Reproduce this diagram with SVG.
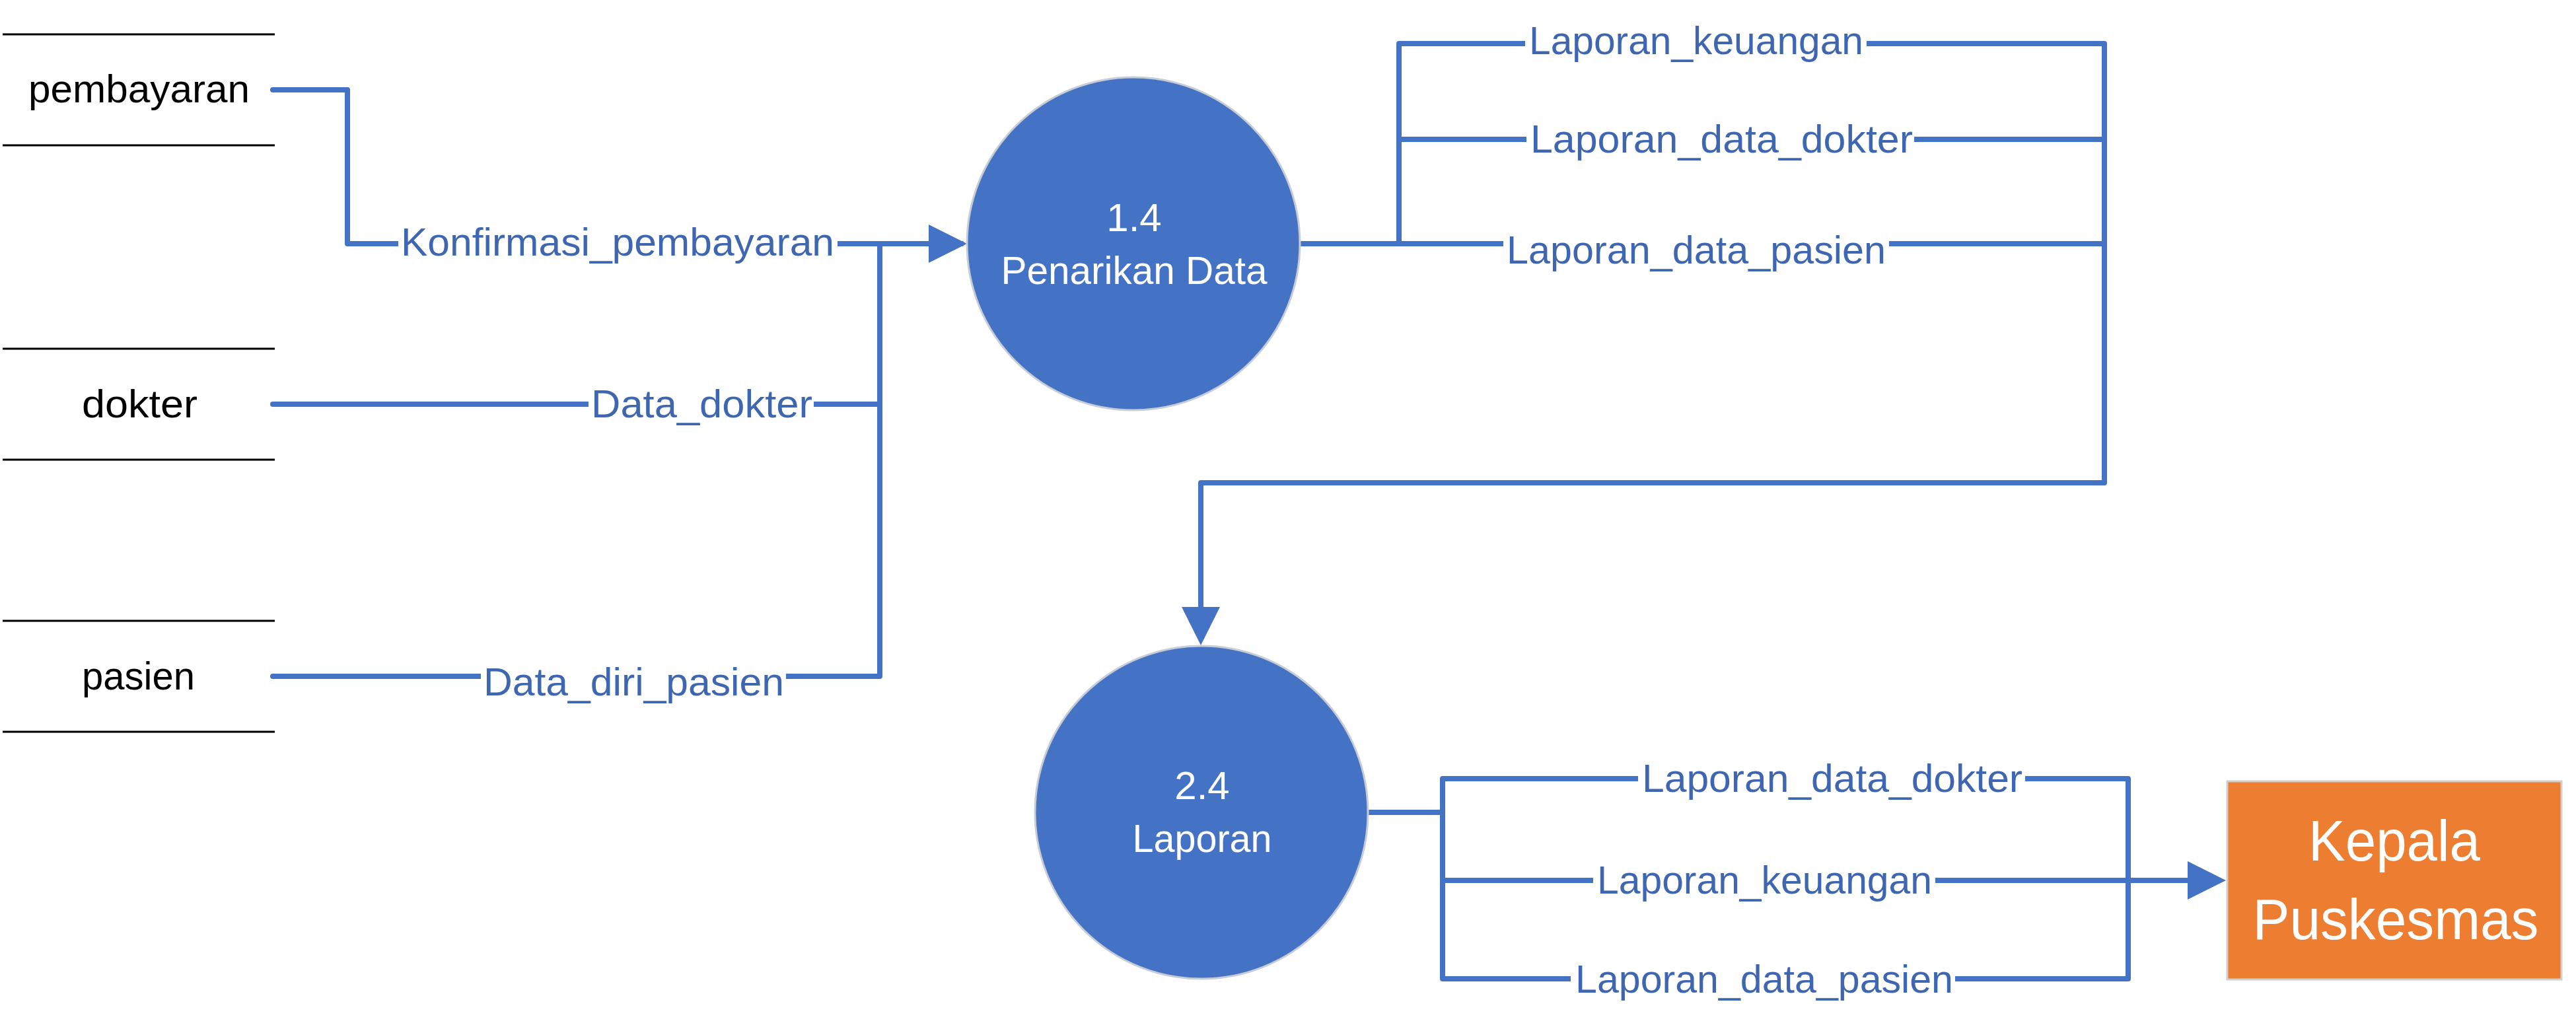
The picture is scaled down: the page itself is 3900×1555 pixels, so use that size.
<svg xmlns="http://www.w3.org/2000/svg" width="3900" height="1555" viewBox="0 0 3900 1555">
<style>
.flow{fill:none;stroke:#4472C4;stroke-width:8;stroke-linejoin:round}
.store{stroke:#000;stroke-width:3}
.lbl{font-family:"Liberation Sans",Arial,sans-serif;font-size:60px;fill:#3F66B0}
.bg{fill:#fff}
.ent{font-family:"Liberation Sans",Arial,sans-serif;font-size:60px;fill:#000}
.proc{fill:#4472C4;stroke:#C8CCD4;stroke-width:3}
.ptxt{font-family:"Liberation Sans",Arial,sans-serif;font-size:60px;fill:#fff;text-anchor:middle}
.ext{fill:#ED7D31;stroke:#D0D0D0;stroke-width:3}
.etxt{font-family:"Liberation Sans",Arial,sans-serif;font-size:87px;fill:#fff;text-anchor:middle}
</style>
<defs>
<marker id="arrow" viewBox="0 0 58 58" refX="50" refY="29" markerWidth="58" markerHeight="58" markerUnits="userSpaceOnUse" orient="auto">
<path d="M0,0 L58,29 L0,58 Z" fill="#4472C4"/>
</marker>
</defs>
<rect width="3900" height="1555" fill="#fff"/>

<g id="store-pembayaran">
<line class="store" x1="4" y1="52" x2="416" y2="52"/>
<line class="store" x1="4" y1="220" x2="416" y2="220"/>
<text class="ent" x="43" y="155" textLength="335" lengthAdjust="spacingAndGlyphs">pembayaran</text>
</g>
<g id="store-dokter">
<line class="store" x1="4" y1="528" x2="416" y2="528"/>
<line class="store" x1="4" y1="696" x2="416" y2="696"/>
<text class="ent" x="124" y="632" textLength="175" lengthAdjust="spacingAndGlyphs">dokter</text>
</g>
<g id="store-pasien">
<line class="store" x1="4" y1="940" x2="416" y2="940"/>
<line class="store" x1="4" y1="1108" x2="416" y2="1108"/>
<text class="ent" x="124" y="1044" textLength="171" lengthAdjust="spacingAndGlyphs">pasien</text>
</g>

<g id="connectors">
<path class="flow" d="M413,136 H526 V369 H1456" stroke-linecap="round" marker-end="url(#arrow)"/>
<path class="flow" d="M413,612 H1332" stroke-linecap="round"/>
<path class="flow" d="M413,1024 H1332 V369" stroke-linecap="round"/>
<path class="flow" d="M1968,369 H2118 V66 H3186 V731 H1818 V969" marker-end="url(#arrow)"/>
<path class="flow" d="M2118,211 H3186"/>
<path class="flow" d="M2118,369 H3186"/>
<path class="flow" d="M2071,1230 H2184"/>
<path class="flow" d="M2184,1179 H3222 V1482 H2184 Z"/>
<path class="flow" d="M2184,1333 H3362" marker-end="url(#arrow)"/>

<rect class="bg" x="603" y="359" width="665" height="20"/>
<text class="lbl" x="607" y="387" textLength="656" lengthAdjust="spacingAndGlyphs">Konfirmasi_pembayaran</text>
<rect class="bg" x="891" y="602" width="341" height="20"/>
<text class="lbl" x="895" y="632" textLength="335" lengthAdjust="spacingAndGlyphs">Data_dokter</text>
<rect class="bg" x="728" y="1014" width="462" height="20"/>
<text class="lbl" x="732" y="1053" textLength="455" lengthAdjust="spacingAndGlyphs">Data_diri_pasien</text>

<rect class="bg" x="2309" y="56" width="517" height="20"/>
<text class="lbl" x="2315" y="82" textLength="506" lengthAdjust="spacingAndGlyphs">Laporan_keuangan</text>
<rect class="bg" x="2311" y="201" width="587" height="20"/>
<text class="lbl" x="2317" y="231" textLength="579" lengthAdjust="spacingAndGlyphs">Laporan_data_dokter</text>
<rect class="bg" x="2276" y="359" width="584" height="20"/>
<text class="lbl" x="2281" y="399" textLength="574" lengthAdjust="spacingAndGlyphs">Laporan_data_pasien</text>

<rect class="bg" x="2480" y="1169" width="586" height="20"/>
<text class="lbl" x="2486" y="1199" textLength="576" lengthAdjust="spacingAndGlyphs">Laporan_data_dokter</text>
<rect class="bg" x="2412" y="1323" width="518" height="20"/>
<text class="lbl" x="2418" y="1353" textLength="507" lengthAdjust="spacingAndGlyphs">Laporan_keuangan</text>
<rect class="bg" x="2378" y="1472" width="582" height="20"/>
<text class="lbl" x="2385" y="1503" textLength="572" lengthAdjust="spacingAndGlyphs">Laporan_data_pasien</text>
</g>

<g id="process-1-4">
<circle class="proc" cx="1716" cy="369" r="252"/>
<text class="ptxt" x="1717" y="350">1.4</text>
<text class="ptxt" x="1717" y="430" textLength="403" lengthAdjust="spacingAndGlyphs">Penarikan Data</text>
</g>
<g id="process-2-4">
<circle class="proc" cx="1819" cy="1230" r="252"/>
<text class="ptxt" x="1820" y="1210">2.4</text>
<text class="ptxt" x="1820" y="1290" textLength="211" lengthAdjust="spacingAndGlyphs">Laporan</text>
</g>
<g id="entity-kepala-puskesmas">
<rect class="ext" x="3372" y="1183" width="506" height="300"/>
<text class="etxt" x="3625" y="1303" textLength="260" lengthAdjust="spacingAndGlyphs">Kepala</text>
<text class="etxt" x="3627" y="1422" textLength="433" lengthAdjust="spacingAndGlyphs">Puskesmas</text>
</g>
</svg>
